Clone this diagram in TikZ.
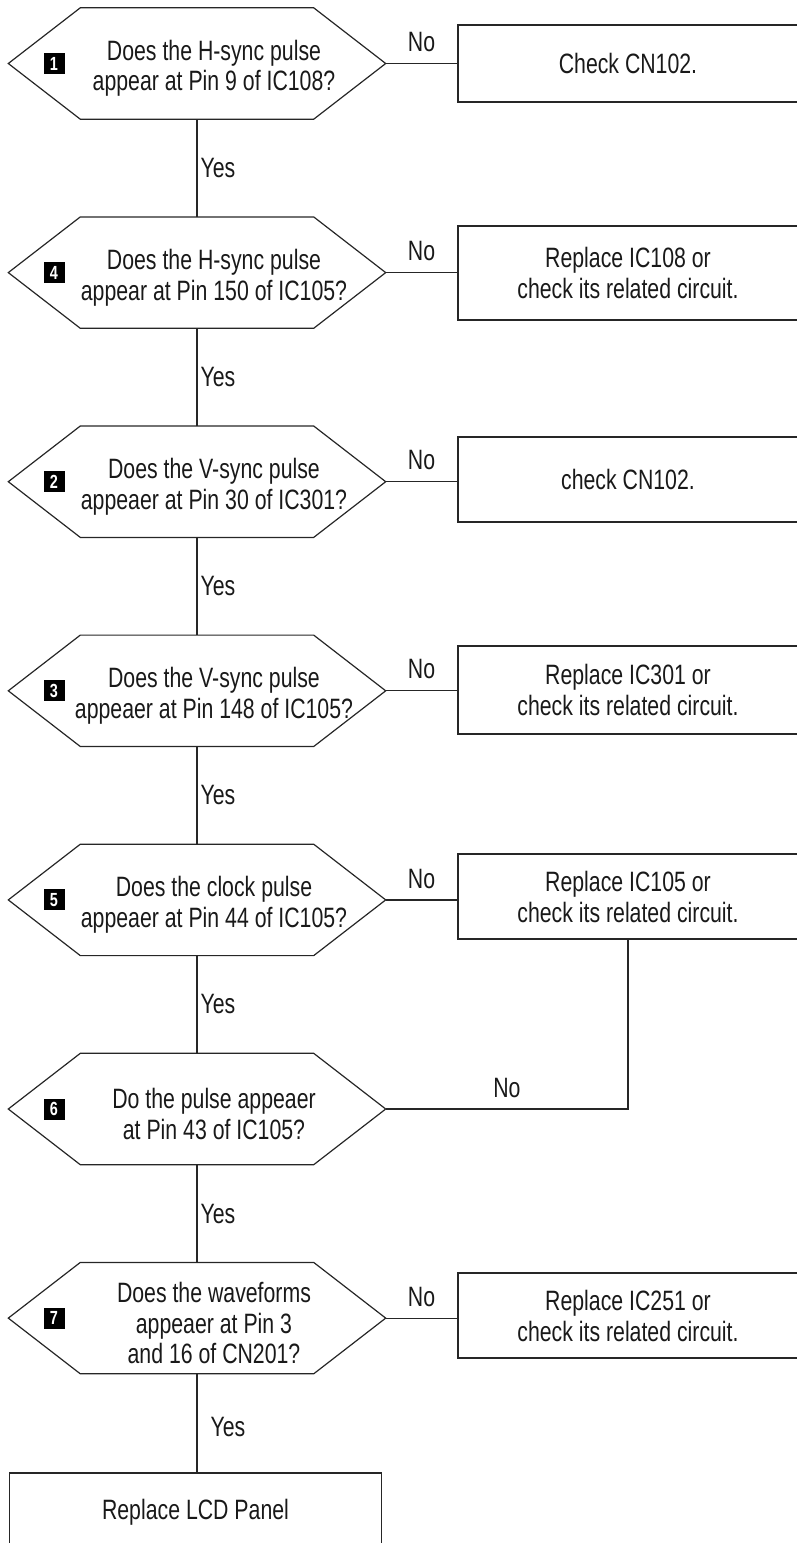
\documentclass[tikz,border=0pt]{standalone}
\usepackage{fontspec}
\setmainfont{Liberation Sans}[FakeStretch=0.76]
\usepackage{tikz}
\usetikzlibrary{positioning}

\newcommand{\hexframe}[1]{%
\draw[wire] (#1.west) -- ([xshift=72pt]#1.north west) -- ([xshift=-72pt]#1.north east) -- (#1.east) -- ([xshift=-72pt]#1.south east) -- ([xshift=72pt]#1.south west) -- cycle;}

\begin{document}
\begin{tikzpicture}[x=1pt, y=-1pt,
 wire/.style = {line width=1.2pt, black!85},
 hexbox/.style = {minimum width=377pt, minimum height=111pt, inner sep=0pt},
 ask/.style = {align=center, text=black!90, font=\fontsize{28}{30.5}\selectfont, xshift=17pt, yshift=-5pt},
 badge/.style = {fill=black, text=white, minimum size=21pt, inner sep=0pt, font=\bfseries\fontsize{19}{19}\selectfont, xshift=-143pt},
 answer/.style = {draw, line width=1.2pt, black!85, text=black!90, minimum width=340pt, align=center, font=\fontsize{28}{31}\selectfont},
 lbl/.style = {text=black!90, inner sep=2pt, font=\fontsize{28}{30}\selectfont}]

\useasboundingbox (0,0) rectangle (796,1543);

\node[hexbox] (q1) at (197,63.5) {};
\node[hexbox] (q4) at (197,272.6) {};
\node[hexbox] (q2) at (197,481.7) {};
\node[hexbox] (q3) at (197,690.8) {};
\node[hexbox] (q5) at (197,899.9) {};
\node[hexbox] (q6) at (197,1109) {};
\node[hexbox] (q7) at (197,1318.1) {};

\hexframe{q1}
\hexframe{q4}
\hexframe{q2}
\hexframe{q3}
\hexframe{q5}
\hexframe{q6}
\hexframe{q7}

\node[ask] (t1) at (q1) {Does the H-sync pulse\\appear at Pin 9 of IC108?};
\node[ask] (t4) at (q4) {Does the H-sync pulse\\appear at Pin 150 of IC105?};
\node[ask] (t2) at (q2) {Does the V-sync pulse\\appeaer at Pin 30 of IC301?};
\node[ask] (t3) at (q3) {Does the V-sync pulse\\appeaer at Pin 148 of IC105?};
\node[ask] (t5) at (q5) {Does the clock pulse\\appeaer at Pin 44 of IC105?};
\node[ask] (t6) at (q6) {Do the pulse appeaer\\at Pin 43 of IC105?};
\node[ask] (t7) at (q7) {Does the waveforms\\appeaer at Pin 3\\and 16 of CN201?};

\node[badge] (b1) at (q1) {1};
\node[badge] (b4) at (q4) {4};
\node[badge] (b2) at (q2) {2};
\node[badge] (b3) at (q3) {3};
\node[badge] (b5) at (q5) {5};
\node[badge] (b6) at (q6) {6};
\node[badge] (b7) at (q7) {7};

\node[answer, minimum height=77pt] (r1) at (628,63.5) {Check CN102.};
\node[answer, minimum height=94pt] (r4) at (628,273) {Replace IC108 or\\check its related circuit.};
\node[answer, minimum height=85pt] (r2) at (628,479.5) {check CN102.};
\node[answer, minimum height=88pt] (r3) at (628,690) {Replace IC301 or\\check its related circuit.};
\node[answer, minimum height=85pt] (r5) at (628,896.5) {Replace IC105 or\\check its related circuit.};
\node[answer, minimum height=85pt] (r7) at (628,1315.5) {Replace IC251 or\\check its related circuit.};
\node[answer, minimum width=372pt, minimum height=78pt] (lcd) at (195.5,1512) {Replace LCD Panel};

\draw[wire] (q1.east) -- node[lbl, above=9pt] {No} (q1.east -| r1.west);
\draw[wire] (q4.east) -- node[lbl, above=9pt] {No} (q4.east -| r4.west);
\draw[wire] (q2.east) -- node[lbl, above=9pt] {No} (q2.east -| r2.west);
\draw[wire] (q3.east) -- node[lbl, above=9pt] {No} (q3.east -| r3.west);
\draw[wire] (q5.east) -- node[lbl, above=9pt] {No} (q5.east -| r5.west);
\draw[wire] (q6.east) -- node[lbl, above=9pt] {No} (q6.east -| r5.south) -- (r5.south);
\draw[wire] (q7.east) -- node[lbl, above=9pt] {No} (q7.east -| r7.west);

\draw[wire] (q1.south) -- node[lbl, right=1pt] {Yes} (q4.north);
\draw[wire] (q4.south) -- node[lbl, right=1pt] {Yes} (q2.north);
\draw[wire] (q2.south) -- node[lbl, right=1pt] {Yes} (q3.north);
\draw[wire] (q3.south) -- node[lbl, right=1pt] {Yes} (q5.north);
\draw[wire] (q5.south) -- node[lbl, right=1pt] {Yes} (q6.north);
\draw[wire] (q6.south) -- node[lbl, right=1pt] {Yes} (q7.north);
\draw[wire] (q7.south) -- node[lbl, right=1pt, xshift=10pt, yshift=-4pt] {Yes} (q7.south |- lcd.north);

\end{tikzpicture}
\end{document}
